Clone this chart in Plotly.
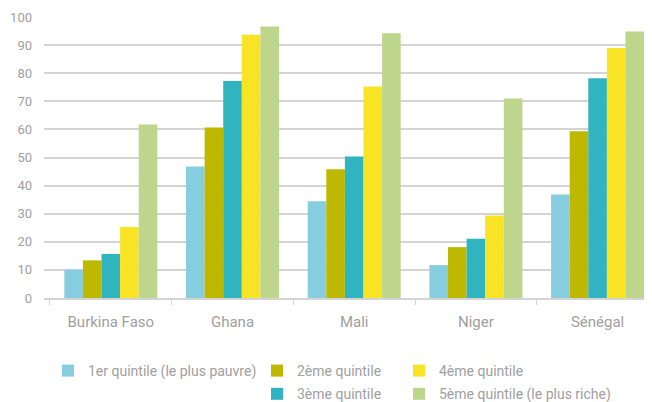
import plotly.graph_objects as go

countries = ["Burkina Faso", "Ghana", "Mali", "Niger", "Sénégal"]
q1 = [10.1, 46.8, 34.4, 11.7, 36.8]
q2 = [13.4, 60.7, 45.8, 18.1, 59.3]
q3 = [15.7, 77.2, 50.4, 21.1, 78.2]
q4 = [25.3, 93.7, 75.3, 29.4, 89.0]
q5 = [61.7, 96.6, 94.2, 71.0, 94.8]
names = ["1er quintile (le plus pauvre)", "2ème quintile", "3ème quintile",
         "4ème quintile", "5ème quintile (le plus riche)"]
colors = ["#86CDE0", "#BEB800", "#2FB4C0", "#F8E425", "#BDD68B"]
legends = ["legend", "legend2", "legend2", "legend3", "legend3"]
y_ticks = [0, 10, 20, 30, 40, 50, 60, 70, 80, 90, 100]

fig = go.Figure()
for i, (vals, nm, col, lg) in enumerate(zip([q1, q2, q3, q4, q5], names, colors, legends)):
    fig.add_trace(go.Bar(x=countries, y=vals, name=nm, marker=dict(color=col, line=dict(width=0)),
                         legend=lg, legendgroup="g%d" % i))

txt = "#a0a0a0"
grid = "#d4d4d4"
# page body has an 8px margin, so the figure is drawn 8px in from the top-left corner
W, H = 644, 394

def leg(xpix, ypix):
    return dict(x=xpix / W, y=1 - ypix / H, xref="container", yref="container",
                xanchor="left", yanchor="top", orientation="v",
                font=dict(size=14, color=txt, family="Roboto"),
                bgcolor="rgba(0,0,0,0)", tracegroupgap=2, itemclick=False)

fig.update_layout(
    width=W, height=H,
    margin=dict(l=36, r=0, t=9, b=104, autoexpand=False),
    paper_bgcolor="white", plot_bgcolor="white",
    barmode="group", bargap=0.236, bargroupgap=0,
    font=dict(family="Roboto", color=txt, size=13),
    showlegend=True,
    legend=leg(40, 347),
    legend2=leg(249, 347),
    legend3=leg(391, 347),
    xaxis=dict(range=[-0.549, 4.447], showgrid=False, showline=True, linecolor=grid, linewidth=1.5,
               ticks="outside", tickson="boundaries", ticklen=5, tickcolor=grid, tickwidth=1,
               tickfont=dict(size=15, color=txt), tickangle=0, ticklabelstandoff=9, fixedrange=True),
    yaxis=dict(range=[0, 100], tickvals=y_ticks, showgrid=True, gridcolor=grid, gridwidth=1.5,
               zeroline=False, showline=False, ticks="", tickfont=dict(size=13, color=txt),
               ticklabelstandoff=11, fixedrange=True),
)

fig.write_html("out.html")
